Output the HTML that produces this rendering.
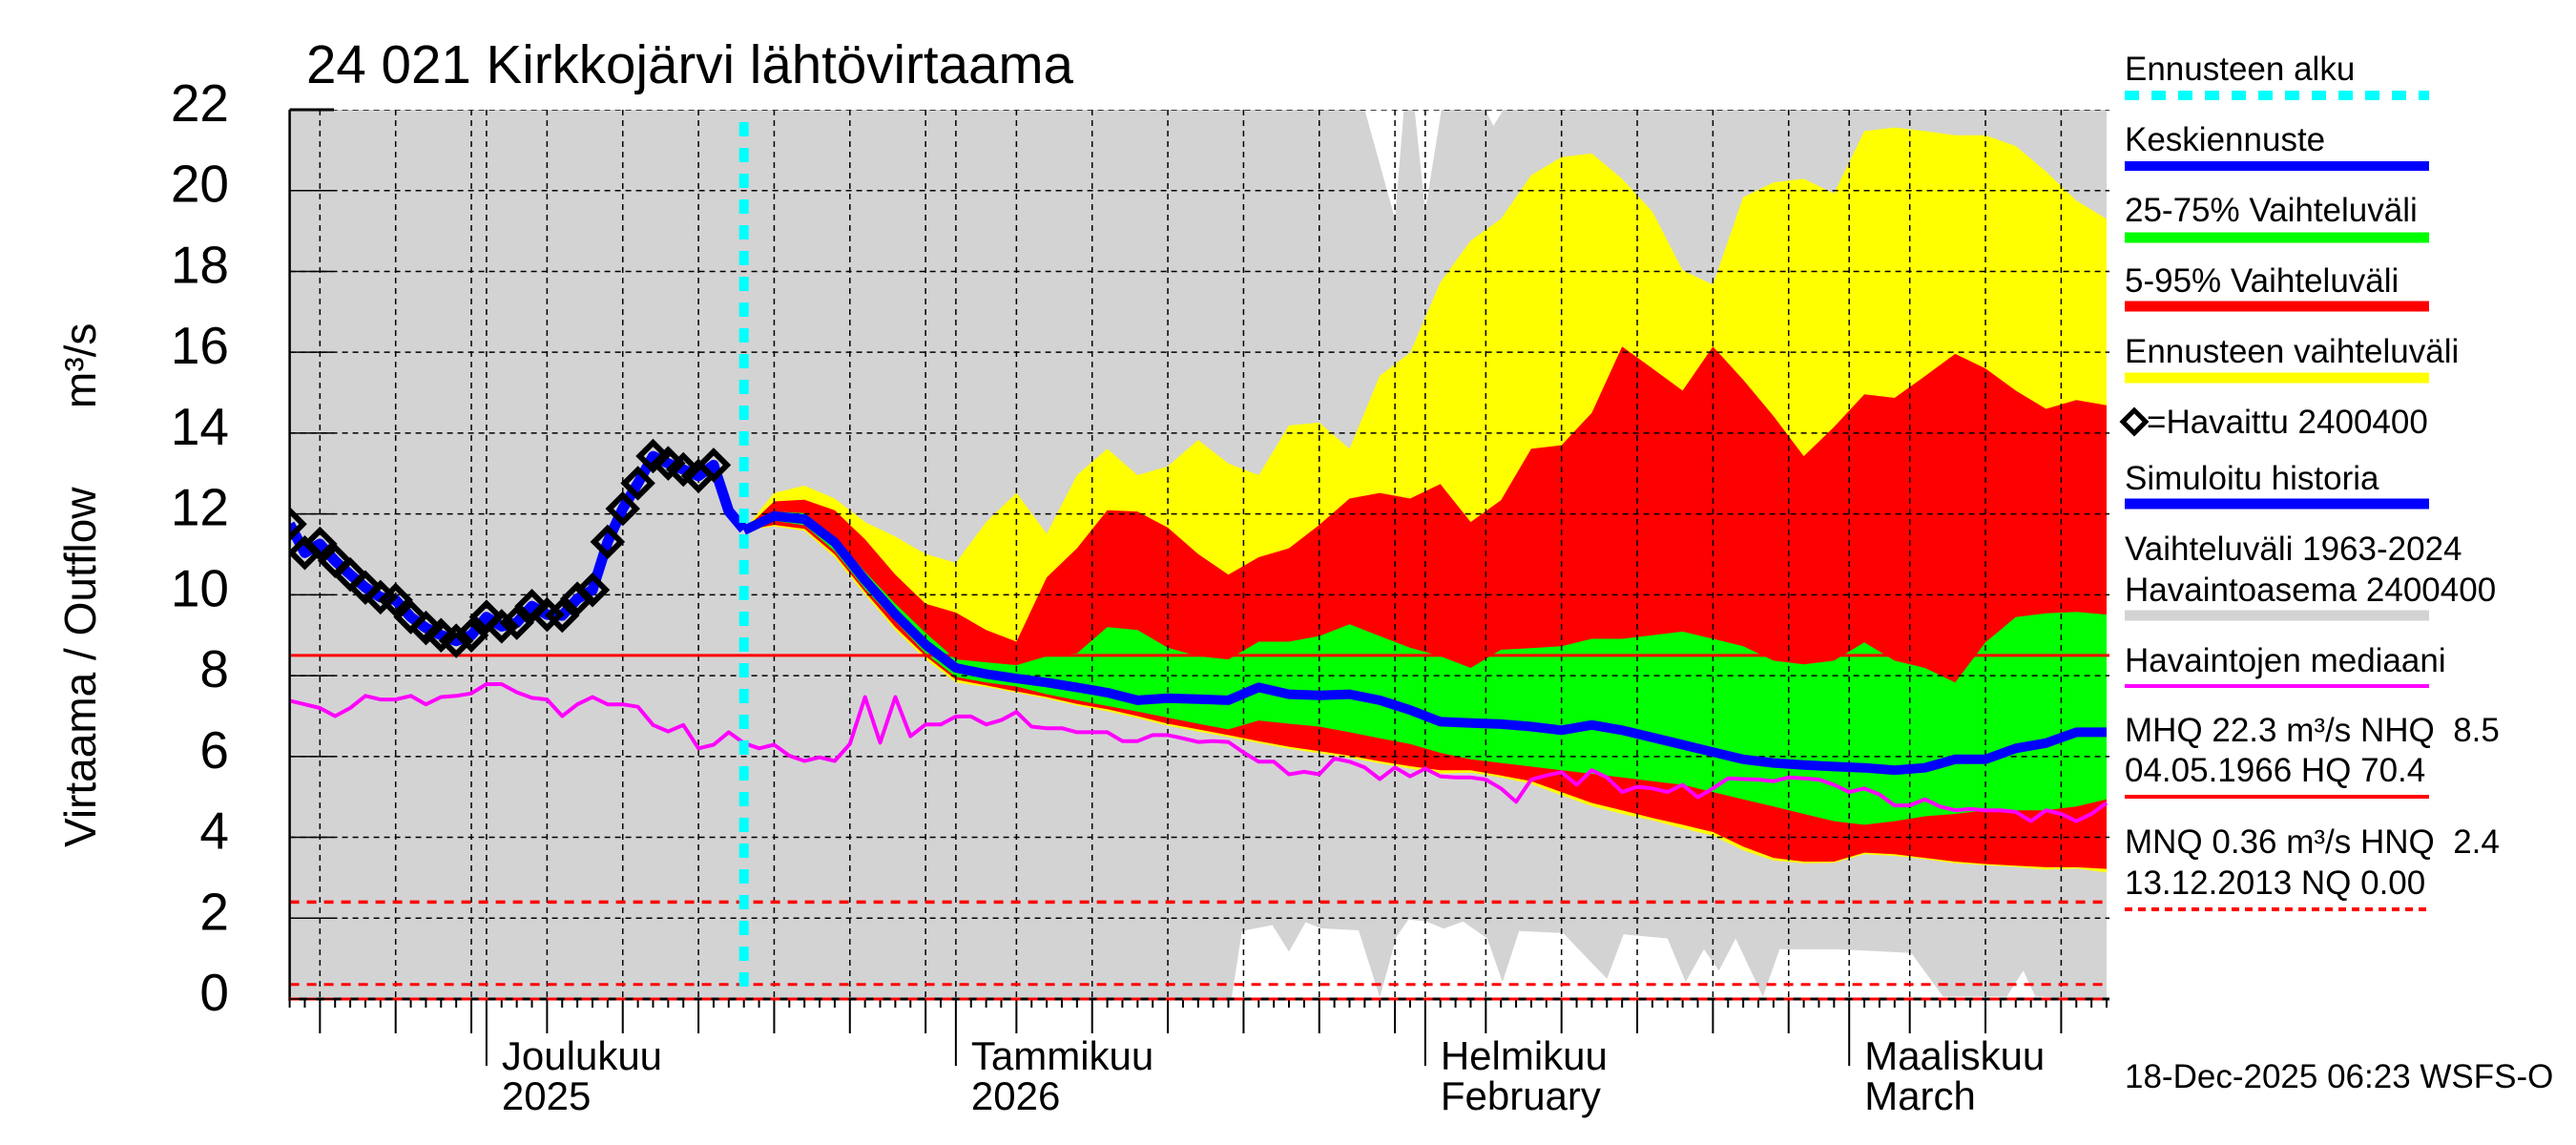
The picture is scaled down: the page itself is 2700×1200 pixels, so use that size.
<!DOCTYPE html>
<html><head><meta charset="utf-8">
<style>
html,body{margin:0;padding:0;background:#fff;}
svg{display:block;font-family:"Liberation Sans",sans-serif;}
</style></head>
<body>
<svg id="chart" width="2700" height="1200" viewBox="0 0 2700 1200" xmlns="http://www.w3.org/2000/svg">
<defs><clipPath id="plotclip"><rect x="303.6" y="115" width="1907.4" height="932"/></clipPath></defs>
<rect x="0" y="0" width="2700" height="1200" fill="#fff"/>
<g id="plot" clip-path="url(#plotclip)"></g>
<g id="axes"></g>
<text x="321" y="87" font-size="56.5" fill="#000">24 021 Kirkkojärvi lähtövirtaama</text>
<text transform="translate(100,888) rotate(-90)" font-size="46" fill="#000">Virtaama / Outflow</text>
<text transform="translate(100,428) rotate(-90)" font-size="46" fill="#000">m³/s</text>
<g id="legend" font-size="35" fill="#000">
<text x="2227" y="84">Ennusteen alku</text>
<line x1="2227" y1="100" x2="2546" y2="100" stroke="#00ffff" stroke-width="10" stroke-dasharray="15,13"/>
<text x="2227" y="158">Keskiennuste</text>
<line x1="2227" y1="174" x2="2546" y2="174" stroke="#0000ff" stroke-width="10"/>
<text x="2227" y="232">25-75% Vaihteluväli</text>
<line x1="2227" y1="249" x2="2546" y2="249" stroke="#00ff00" stroke-width="11"/>
<text x="2227" y="306">5-95% Vaihteluväli</text>
<line x1="2227" y1="321" x2="2546" y2="321" stroke="#ff0000" stroke-width="11"/>
<text x="2227" y="380">Ennusteen vaihteluväli</text>
<line x1="2227" y1="396" x2="2546" y2="396" stroke="#ffff00" stroke-width="11"/>
<path d="M2237,430 L2249,442 L2237,454 L2225,442 Z" fill="none" stroke="#000" stroke-width="5"/>
<text x="2250" y="454">=Havaittu 2400400</text>
<text x="2227" y="513">Simuloitu historia</text>
<line x1="2227" y1="528" x2="2546" y2="528" stroke="#0000ff" stroke-width="11"/>
<text x="2227" y="587">Vaihteluväli 1963-2024</text>
<text x="2227" y="630">Havaintoasema 2400400</text>
<line x1="2227" y1="645" x2="2546" y2="645" stroke="#d3d3d3" stroke-width="11"/>
<text x="2227" y="704">Havaintojen mediaani</text>
<line x1="2227" y1="719" x2="2546" y2="719" stroke="#ff00ff" stroke-width="4"/>
<text x="2227" y="777" xml:space="preserve">MHQ 22.3 m³/s NHQ  8.5</text>
<text x="2227" y="819">04.05.1966 HQ 70.4</text>
<line x1="2227" y1="835" x2="2546" y2="835" stroke="#ff0000" stroke-width="4"/>
<text x="2227" y="894" xml:space="preserve">MNQ 0.36 m³/s HNQ  2.4</text>
<text x="2227" y="937">13.12.2013 NQ 0.00</text>
<line x1="2227" y1="953" x2="2546" y2="953" stroke="#ff0000" stroke-width="4" stroke-dasharray="8,6"/>
<text x="2227" y="1140">18-Dec-2025 06:23 WSFS-O</text>
</g>
</svg>
<script>
// ---- data ----
const yTicks = [0,2,4,6,8,10,12,14,16,18,20,22];
const monthLabels = ["Joulukuu","Tammikuu","Helmikuu","Maaliskuu"];
const yearLabels = ["2025","2026","February","March"];
const monthStartDays = [13,44,75,103];
const forecastStartDay = 30;
const refLevels = [8.5, 2.4, 0.36, 0.0];
const obsValues = [11.75,11.04,11.26,10.84,10.5,10.18,9.94,9.87,9.45,9.18,9.0,8.86,9.0,9.45,9.22,9.31,9.72,9.51,9.49,9.9,10.12,11.31,12.13,12.76,13.43,13.25,13.10,12.94,13.21];
const simValues = [11.75,11.04,11.26,10.84,10.5,10.18,9.94,9.87,9.45,9.18,9.0,8.86,9.0,9.45,9.22,9.31,9.72,9.51,9.49,9.9,10.12,11.31,12.13,12.76,13.43,13.25,13.10,12.94,13.21,12.07,11.62];
const obsMedian = [7.38,7.29,7.2,7.0,7.2,7.5,7.41,7.41,7.5,7.29,7.47,7.5,7.56,7.79,7.79,7.59,7.45,7.41,7.0,7.29,7.47,7.29,7.29,7.23,6.78,6.62,6.78,6.2,6.29,6.6,6.33,6.2,6.29,6.02,5.89,5.98,5.89,6.31,7.47,6.34,7.47,6.5,6.79,6.79,6.99,6.99,6.79,6.9,7.1,6.74,6.7,6.7,6.6,6.6,6.6,6.38,6.38,6.53,6.53,6.45,6.36,6.38,6.36,6.1,5.87,5.87,5.56,5.62,5.56,5.95,5.87,5.73,5.44,5.73,5.51,5.7,5.51,5.48,5.48,5.43,5.21,4.88,5.43,5.53,5.61,5.3,5.66,5.48,5.12,5.25,5.21,5.12,5.3,4.99,5.21,5.46,5.44,5.43,5.39,5.48,5.46,5.43,5.3,5.12,5.21,5.06,4.79,4.79,4.94,4.76,4.67,4.7,4.67,4.67,4.63,4.4,4.67,4.58,4.4,4.58,4.85];
const fcDays = [0,2,4,6,8,10,12,14,16,18,20,22,24,26,28,30,32,34,36,38,40,42,44,46,48,50,52,54,56,58,60,62,64,66,68,70,72,74,76,78,80,82,84,86,88,90];
const fcMax = [11.6,12.52,12.7,12.38,11.8,11.44,11.01,10.79,11.8,12.52,11.51,12.96,13.61,12.96,13.18,13.83,13.25,12.96,14.19,14.26,13.61,15.42,15.99,17.73,18.76,19.3,20.38,20.83,20.92,20.29,19.48,18.03,17.67,19.84,20.2,20.29,19.93,21.47,21.56,21.47,21.37,21.37,21.1,20.47,19.75,19.3];
const fcP95 = [11.6,12.31,12.35,12.09,11.37,10.5,9.78,9.56,9.13,8.84,10.43,11.15,12.09,12.06,11.66,11.01,10.5,10.93,11.15,11.73,12.38,12.52,12.38,12.74,11.8,12.34,13.61,13.7,14.5,16.14,15.6,15.05,16.14,15.32,14.42,13.43,14.15,14.96,14.87,15.41,15.96,15.6,15.05,14.6,14.82,14.69];
const fcP75 = [11.6,12.06,12.02,11.44,10.57,9.78,9.06,8.4,8.33,8.26,8.48,8.55,9.2,9.13,8.69,8.48,8.4,8.84,8.84,8.98,9.27,8.98,8.69,8.48,8.19,8.64,8.68,8.73,8.91,8.91,9.0,9.09,8.91,8.73,8.37,8.28,8.37,8.82,8.37,8.19,7.83,8.82,9.45,9.54,9.58,9.51];
const fcMedian = [11.59,11.95,11.87,11.3,10.36,9.52,8.77,8.19,8.04,7.93,7.83,7.71,7.58,7.39,7.44,7.42,7.39,7.71,7.54,7.51,7.54,7.39,7.15,6.86,6.83,6.8,6.74,6.65,6.78,6.65,6.47,6.29,6.11,5.93,5.84,5.79,5.75,5.72,5.66,5.72,5.93,5.93,6.2,6.33,6.6,6.6];
const fcP25 = [11.59,11.83,11.72,11.08,10.14,9.35,8.55,7.97,7.83,7.73,7.54,7.39,7.25,7.11,6.96,6.81,6.67,6.89,6.81,6.74,6.6,6.45,6.31,6.09,5.93,5.84,5.75,5.66,5.57,5.48,5.39,5.3,5.12,4.94,4.76,4.58,4.4,4.31,4.4,4.52,4.58,4.67,4.67,4.67,4.76,4.94];
const fcP5 = [11.59,11.73,11.63,11.0,10.07,9.2,8.48,7.9,7.76,7.61,7.47,7.3,7.17,7.0,6.81,6.67,6.53,6.38,6.24,6.13,6.02,5.88,5.76,5.66,5.66,5.53,5.39,5.12,4.85,4.67,4.48,4.31,4.13,3.77,3.49,3.4,3.4,3.62,3.58,3.49,3.4,3.34,3.3,3.26,3.26,3.22];
const fcMin = [11.59,11.69,11.58,10.93,10.0,9.13,8.41,7.83,7.72,7.58,7.43,7.26,7.12,6.95,6.76,6.62,6.48,6.33,6.19,6.08,5.97,5.83,5.7,5.58,5.6,5.48,5.32,5.04,4.77,4.58,4.42,4.22,4.04,3.68,3.43,3.36,3.37,3.58,3.54,3.46,3.36,3.31,3.27,3.2,3.23,3.13];
const histMaxDays = [0,71,73,73.7,74.3,75,76.5,78.7,79.5,80.5,81,120];
const histMaxVals = [23,22,19.3,22.5,22,19.5,23,22.2,21.6,22.2,23,23];
const histMinDays = [0,62.2,62.9,64.9,66,67.1,68.1,70.6,72,73.1,73.9,75.1,76.2,77.5,79.1,80.1,81.2,84.1,87,88.1,91,92.2,93.4,94.4,95.5,97.3,98.4,102.3,107.1,109.2,113.4,114.5,115.3,120];
const histMinVals = [0,0,1.68,1.83,1.17,1.9,1.75,1.7,0.04,1.54,1.97,1.92,1.74,1.92,1.5,0.42,1.68,1.63,0.5,1.6,1.5,0.42,1.23,0.7,1.5,0.06,1.23,1.23,1.14,0.06,0.06,0.7,0.06,0];

// ---- scales ----
const X0 = 303.6, DX = 15.87, Y0 = 1047, DY = 42.364;
function xs(d){ return X0 + d*DX; }
function ys(v){ return Y0 - v*DY; }
const NS = "http://www.w3.org/2000/svg";
const plot = document.getElementById("plot");
const axes = document.getElementById("axes");
function mk(tag, parent, attrs){
  const e = document.createElementNS(NS, tag);
  for (const k in attrs) e.setAttribute(k, attrs[k]);
  parent.appendChild(e);
  return e;
}
function bandPath(days, upper, lower, off){
  let s = "";
  for (let i=0;i<days.length;i++) s += (i?"L":"M") + xs(days[i]+off).toFixed(1) + "," + ys(upper[i]).toFixed(1);
  for (let i=days.length-1;i>=0;i--) s += "L" + xs(days[i]+off).toFixed(1) + "," + ys(lower[i]).toFixed(1);
  return s + "Z";
}
function linePath(days, vals, off){
  let s = "";
  for (let i=0;i<vals.length;i++) s += (i?"L":"M") + xs(days[i]+off).toFixed(1) + "," + ys(vals[i]).toFixed(1);
  return s;
}

{
  let s = "";
  for (let i=0;i<histMaxDays.length;i++) s += (i?"L":"M") + xs(histMaxDays[i]).toFixed(1) + "," + ys(histMaxVals[i]).toFixed(1);
  for (let i=histMinDays.length-1;i>=0;i--) s += "L" + xs(histMinDays[i]).toFixed(1) + "," + ys(histMinVals[i]).toFixed(1);
  const p = mk("path", plot, {d: s+"Z", fill: "#d3d3d3"});
  
  
}
{
  const b1 = mk("path", plot, {d: bandPath(fcDays, fcMax, fcMin, forecastStartDay), fill: "#ffff00"});
  
  
  const b2 = mk("path", plot, {d: bandPath(fcDays, fcP95, fcP5, forecastStartDay), fill: "#ff0000"});
  
  
  const b3 = mk("path", plot, {d: bandPath(fcDays, fcP75, fcP25, forecastStartDay), fill: "#00ff00"});
  
  
}
function dayOfMonth(d){
  if (d < 13) return 18 + d;
  if (d < 44) return d - 12;
  if (d < 75) return d - 43;
  if (d < 103) return d - 74;
  return d - 102;
}
for (const v of yTicks){
  const g = mk("line", plot, {x1: X0, x2: 2211, y1: ys(v), y2: ys(v), stroke: "#000", "stroke-width": 1.5, "stroke-dasharray": "6,5"});
  
  
}
for (let d=0; d<=120; d++){
  const dm = dayOfMonth(d);
  const isMonth = monthStartDays.includes(d);
  const isGrid = dm % 5 === 0 || isMonth;
  if (isGrid){
    const g = mk("line", plot, {x1: xs(d), x2: xs(d), y1: 115, y2: Y0, stroke: "#000", "stroke-width": 1.5, "stroke-dasharray": "6,5"});
    
    
  }
  const len = isMonth ? 70 : (dm % 5 === 0 ? 36 : 9);
  const t = mk("line", axes, {x1: xs(d), x2: xs(d), y1: Y0, y2: Y0+len, stroke: "#000", "stroke-width": 2});
  
  
}
{
  const l1 = mk("line", plot, {x1: X0, x2: 2211, y1: ys(refLevels[0]), y2: ys(refLevels[0]), stroke: "#ff0000", "stroke-width": 3});
  
  
  const l2 = mk("line", plot, {x1: X0, x2: 2211, y1: ys(refLevels[1]), y2: ys(refLevels[1]), stroke: "#ff0000", "stroke-width": 3.5, "stroke-dasharray": "10,8"});
  
  
  const l3 = mk("line", plot, {x1: X0, x2: 2211, y1: ys(refLevels[2]), y2: ys(refLevels[2]), stroke: "#ff0000", "stroke-width": 3, "stroke-dasharray": "10,8"});
  
  
}
{
  const days = obsMedian.map((v,i)=>i);
  const p = mk("path", plot, {d: linePath(days, obsMedian, 0), fill: "none", stroke: "#ff00ff", "stroke-width": 4, "stroke-linejoin": "round"});
  
  
}
{
  const days = simValues.map((v,i)=>i);
  const p = mk("path", plot, {d: linePath(days, simValues, 0), fill: "none", stroke: "#0000ff", "stroke-width": 11, "stroke-linejoin": "round"});
  
  
  const m = mk("path", plot, {d: linePath(fcDays, fcMedian, forecastStartDay), fill: "none", stroke: "#0000ff", "stroke-width": 10, "stroke-linejoin": "round"});
  
  
}
for (let i=0;i<obsValues.length;i++){
  const cx = xs(i), cy = ys(obsValues[i]);
  const dm = mk("path", plot, {d: "M"+cx+","+(cy-14)+"L"+(cx+14)+","+cy+"L"+cx+","+(cy+14)+"L"+(cx-14)+","+cy+"Z", fill: "none", stroke: "#000", "stroke-width": 6});
  
  
}
{
  const c = mk("line", plot, {x1: xs(forecastStartDay), x2: xs(forecastStartDay), y1: 128, y2: Y0, stroke: "#00ffff", "stroke-width": 10, "stroke-dasharray": "15,12"});
  
  
}
{
  const a = mk("line", axes, {x1: X0, x2: X0, y1: 115, y2: Y0+2, stroke: "#000", "stroke-width": 2.5});
  
  
  const t = mk("line", axes, {x1: X0, x2: 350, y1: 115, y2: 115, stroke: "#000", "stroke-width": 3});
  
  
  const b = mk("line", axes, {x1: X0, x2: 2211, y1: Y0, y2: Y0, stroke: "#000", "stroke-width": 3});
  
  
  const r = mk("line", axes, {x1: X0, x2: 2211, y1: Y0, y2: Y0, stroke: "#ff0000", "stroke-width": 3, "stroke-dasharray": "10,8"});
  
  
}
for (const v of yTicks){
  const tk = mk("line", axes, {x1: X0, x2: X0+46, y1: ys(v), y2: ys(v), stroke: "#000", "stroke-width": 1.5});
  
  
  const t = mk("text", axes, {x: 240, y: ys(v)+12, "font-size": 55, "text-anchor": "end", fill: "#000"});
  t.textContent = String(v);
  
  
}
for (let i=0;i<monthLabels.length;i++){
  const x = xs(monthStartDays[i]) + 16;
  const t1 = mk("text", axes, {x: x, y: 1121, "font-size": 42, fill: "#000"});
  t1.textContent = monthLabels[i];
  
  
  const t2 = mk("text", axes, {x: x, y: 1163, "font-size": 42, fill: "#000"});
  t2.textContent = yearLabels[i];
  
  
}
</script>
</body></html>
